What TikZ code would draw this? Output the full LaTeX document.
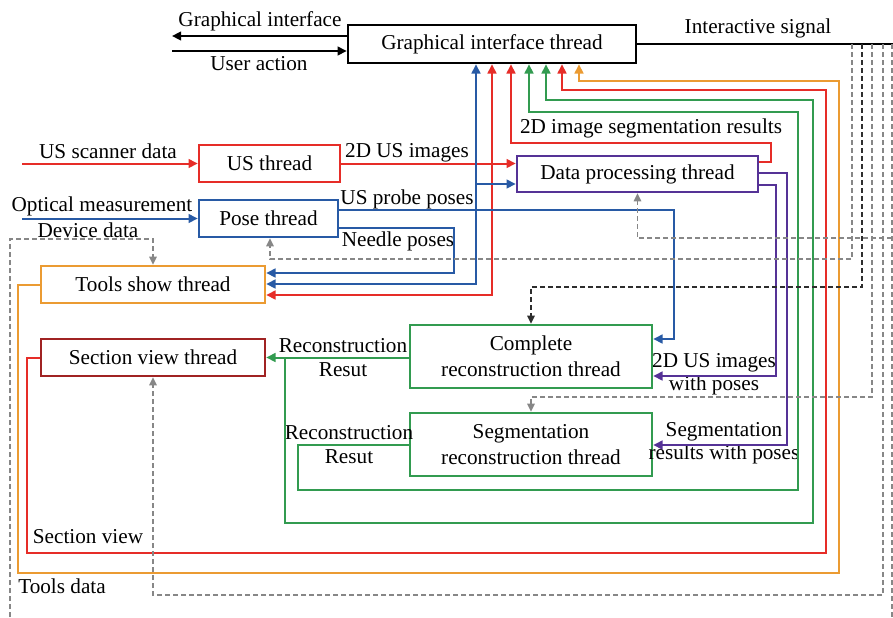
\documentclass[tikz,border=0pt]{standalone}
\usepackage{fontspec}
\setmainfont{Liberation Serif}
\usetikzlibrary{arrows.meta, positioning}

\definecolor{thrRed}{RGB}{230,45,40}
\definecolor{thrBlue}{RGB}{40,90,165}
\definecolor{thrGreen}{RGB}{50,155,80}
\definecolor{thrOrange}{RGB}{235,155,50}
\definecolor{thrPurple}{RGB}{85,50,150}
\definecolor{thrBrown}{RGB}{160,35,35}
\definecolor{dashGray}{RGB}{135,135,135}
\definecolor{dashDark}{RGB}{45,45,45}

\tikzset{
    thread/.style={draw, line width=1.3pt, inner sep=0pt, align=center,
        font=\fontsize{10.6}{13}\selectfont},
    lbl/.style={inner sep=0pt, align=center, font=\fontsize{10.6}{11.6}\selectfont},
    tip/.tip={Triangle[length=4.6pt,width=4.4pt]},
    flow/.style={line width=1pt, -tip},
    redline/.style={flow, thrRed},
    blueline/.style={flow, thrBlue},
    greenline/.style={flow, thrGreen},
    orangeline/.style={flow, thrOrange},
    purpleline/.style={flow, thrPurple},
    blackline/.style={flow, black},
    ctrl/.style={line width=0.65pt, dash pattern=on 2.5pt off 1.5pt,
        -{Triangle[length=4pt,width=3.8pt]}},
    grayctrl/.style={ctrl, dashGray},
    darkctrl/.style={ctrl, dashDark},
}

\begin{document}
\begin{tikzpicture}[x=0.5pt, y=-0.5pt]
    \useasboundingbox (0,0) rectangle (893,617);

    % threads
    \node[thread, minimum width=144pt, minimum height=19pt] (gi) at (492,44) {Graphical interface thread};
    \node[thread, thrRed, text=black, minimum width=70.5pt, minimum height=18.5pt] (us) at (269.5,163.5) {US thread};
    \node[thread, thrBlue, text=black, minimum width=69.5pt, minimum height=18.5pt] (pose) at (268.5,218.5) {Pose thread};
    \node[thread, thrOrange, text=black, minimum width=112pt, minimum height=18.5pt] (tools) at (153,284.5) {Tools show thread};
    \node[thread, thrBrown, text=black, minimum width=112pt, minimum height=18.5pt] (section) at (153,357.5) {Section view thread};
    \node[thread, thrPurple, text=black, minimum width=120.5pt, minimum height=18pt] (dp) at (637.5,174) {Data processing thread};
    \node[thread, thrGreen, text=black, minimum width=121pt, minimum height=31.5pt] (comp) at (531,356.5) {Complete\\reconstruction thread};
    \node[thread, thrGreen, text=black, minimum width=121pt, minimum height=31.5pt] (seg) at (531,444.5) {Segmentation\\reconstruction thread};

    % free ends
    \coordinate (giout) at (172,36);
    \coordinate (userin) at (172,51);
    \coordinate (sigend) at (893,44);
    \coordinate (usin) at (22,163.5);
    \coordinate (optin) at (22,218.5);
    \coordinate (devin) at (10,617);
    \foreach \n/\x in {1/852,2/862,3/872,4/883,5/892}
        \coordinate (sig\n) at (\x,44);

    % labels
    \node[lbl] (lgi) at (260,21) {Graphical interface};
    \node[lbl] (luser) at (259,64) {User action};
    \node[lbl] (lsig) at (758,28) {Interactive signal};
    \node[lbl] (lusd) at (108,151) {US scanner data};
    \node[lbl] (lopt) at (102,206) {Optical measurement};
    \node[lbl] (ldev) at (88,230) {Device data};
    \node[lbl] (limg) at (407,153) {2D US images};
    \node[lbl] (lprobe) at (407,199) {US probe poses};
    \node[lbl] (lneedle) at (398,241) {Needle poses};
    \node[lbl] (lsegres) at (651,128) {2D image segmentation results};
    \node[lbl] (lrec1) at (343,357.5) {Reconstruction\\Resut};
    \node[lbl] (lrec2) at (349,444.5) {Reconstruction\\Resut};
    \node[lbl] (limgpose) at (714,374.5) {2D US images\\with poses};
    \node[lbl] (lsegpose) at (724,443.5) {Segmentation\\results with poses};
    \node[lbl] (lsecview) at (88,537) {Section view};
    \node[lbl] (ltools) at (62,586) {Tools data};

    % graphical interface
    \draw[blackline] (gi.west |- giout) -- (giout);
    \draw[blackline] (userin) -- (gi.west |- userin);
    \draw[line width=1pt] (gi.east |- sigend) -- (sigend);

    % red
    \draw[redline] (usin) -- (us.west);
    \draw[redline] (us.east) -- (dp.west |- us.east);
    \draw[redline, tip-tip] (tools.east |- 0,295) -| (gi.south -| 492,0);
    \draw[redline] (dp.east |- 0,162) -| (771,143) -| (gi.south -| 511,0);
    \draw[redline] (section.west) -| (27,553) -| (826,90) -| (gi.south -| 562,0);

    % blue
    \draw[blueline] (optin) -- (pose.west);
    \draw[blueline] (pose.east |- 0,210) -| (674,339) -- (comp.east |- 0,339);
    \draw[blueline, tip-tip] (tools.east |- 0,284) -| (gi.south -| 476,0);
    \draw[blueline] (476,184) -- (dp.west |- 0,184);
    \draw[blueline] (pose.east |- 0,228) -| (454,273) -- (tools.east |- 0,273);

    % green
    \draw[greenline] (comp.west |- section.east) -- (section.east);
    \draw[greenline] (285,357.5) |- (813,523) |- (546,100) -- (gi.south -| 546,0);
    \draw[greenline] (seg.west |- 0,445) -| (298,490) -| (798,112) -| (gi.south -| 529,0);

    % orange
    \draw[orangeline] (tools.west) -| (18,573) -| (839,81) -| (gi.south -| 579,0);

    % purple
    \draw[purpleline] (dp.east |- 0,173) -| (787,445) -- (seg.east |- 0,445);
    \draw[purpleline] (dp.east |- 0,185) -| (776,376) -- (comp.east |- 0,376);

    % control signals
    \draw[grayctrl] (sig1) |- (270,259) -- (pose.south -| 270,0);
    \draw[darkctrl] (sig2) |- (comp.north |- 0,287) -- (comp.north);
    \draw[grayctrl] (sig3) |- (seg.north |- 0,397) -- (seg.north);
    \draw[grayctrl] (sig4) |- (section.south |- 0,595) -- (section.south);
    \draw[grayctrl, -] (sig5) -- (892,617);
    \draw[grayctrl] (892,238) -| (dp.south);
    \draw[grayctrl] (devin) |- (tools.north |- 0,239) -- (tools.north);
\end{tikzpicture}
\end{document}
